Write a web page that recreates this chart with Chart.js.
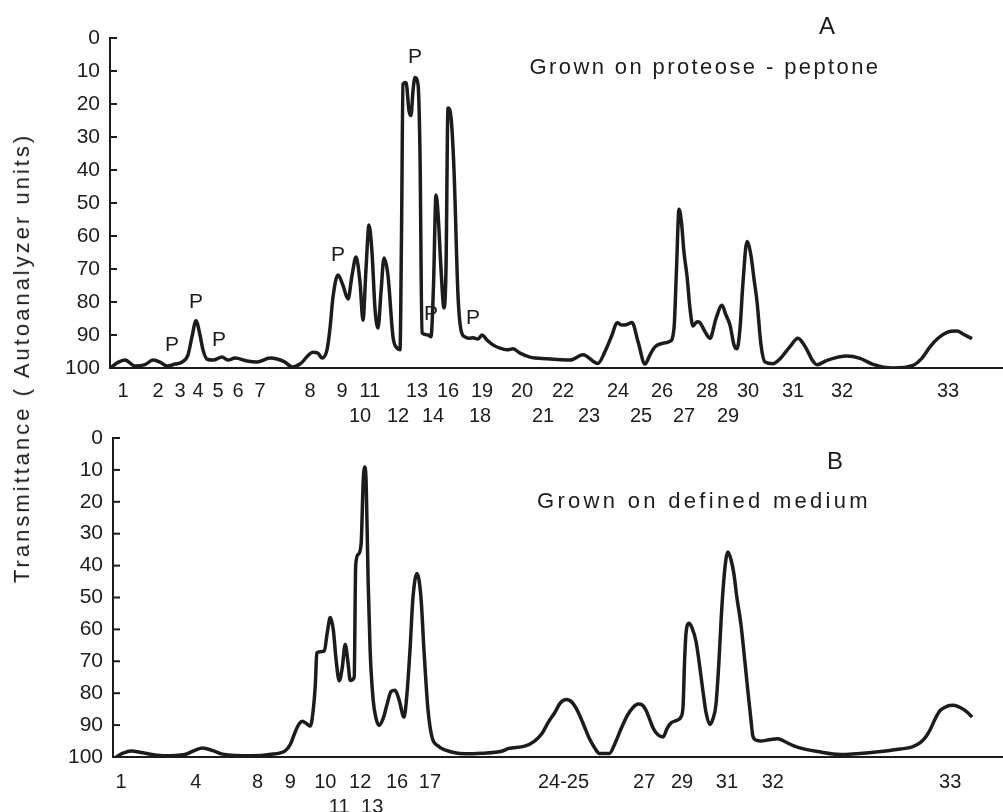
<!DOCTYPE html>
<html>
<head>
<meta charset="utf-8">
<script src="https://cdn.jsdelivr.net/npm/chart.js@4.4.1/dist/chart.umd.min.js"></script>
<style>
  body { margin: 0; background: #fff; }
  #wrap { position: relative; width: 1003px; height: 812px; overflow: hidden; }
  .panel { position: absolute; left: 0; width: 1003px; }
  #panelA { top: 0; height: 425px; }
  #panelB { top: 400px; height: 412px; }
  #yTitle {
    position: absolute; left: 22px; top: 358px;
    transform: translate(-50%, -50%) rotate(-90deg);
    white-space: nowrap; color: #1c1c1c; letter-spacing: 3px;
    font: 22px 'Liberation Sans', sans-serif;
  }
</style>
</head>
<body>
<div id="wrap">
  <div class="panel" id="panelA"><canvas id="chartA"></canvas></div>
  <div class="panel" id="panelB"><canvas id="chartB"></canvas></div>
  <div id="yTitle">Transmittance ( Autoanalyzer units)</div>
</div>
<script>
// elution position (arbitrary units) vs. transmittance, panel A (proteose-peptone)
const posA = [110, 118, 125, 135, 145, 153, 160, 167, 175, 182, 188, 192, 196, 200, 203, 207, 213, 222, 228, 235,
  247, 257, 270, 285, 292, 300, 313, 318, 322, 327, 330, 333, 338, 343, 348, 352, 356, 360, 363, 366,
  369, 372, 375, 378, 381, 384, 388, 393, 397, 400, 401.5, 403, 406, 409, 411, 413, 415, 418, 420, 422,
  428, 431, 433.5, 436, 438, 441, 444, 446, 448, 451, 454, 458, 461, 465, 469, 473, 478, 482, 487, 493,
  500, 507, 513, 520, 530, 547, 570, 583, 598, 605, 612, 617, 622, 627, 632, 638, 645, 650, 655, 663,
  670, 674, 676.5, 679, 681.5, 684, 687, 690, 693, 697, 700, 705, 710, 716, 722, 726, 730, 734, 737, 740,
  743, 747, 751, 754, 757, 761, 765, 773, 780, 790, 798, 803, 807, 812, 817, 827, 847, 860, 873, 893,
  913, 922, 930, 938, 947, 957, 963, 972];
const transA = [100, 98.3, 97.6, 99.4, 99, 97.6, 98.2, 99.4, 98.8, 98.2, 96, 90.5, 85.7, 90, 94.5, 97.3, 97.6, 96.7, 97.6, 97,
  97.9, 98.2, 97, 98.2, 99.7, 98.8, 95.2, 95.5, 97, 94.5, 88, 78.5, 71.8, 75, 79.1, 72, 66.4, 74, 85.5, 70,
  56.7, 65, 82, 87.9, 77, 66.7, 72, 90.6, 94, 94.5, 60, 14, 13.5, 22, 23.5, 16, 12, 14, 35, 89.4,
  90, 90.5, 75, 47.6, 53, 70, 81.8, 70, 21.2, 24, 40, 78, 88.5, 90.6, 91, 90.8, 91.2, 90, 91.5, 93,
  94, 94.5, 94.2, 95.5, 96.7, 97.2, 97.6, 96, 98.6, 95, 90, 86.3, 87, 86.8, 86.2, 92, 98.8, 96, 93.6, 92.5,
  91.9, 88, 70, 51.9, 56, 65, 72.1, 82, 87.3, 86, 86.3, 89, 91, 85, 81, 84, 87, 93, 94.2, 88,
  74, 61.7, 66, 73, 79.8, 93, 98.2, 98.7, 97.2, 93.5, 91, 92.5, 94.5, 97.5, 99, 97.7, 96.4, 97.1, 98.9, 100,
  99.2, 97, 93.6, 91, 89.2, 88.8, 89.7, 91.1];

// panel B (defined medium)
const posB = [113, 120, 128, 140, 160, 182, 192, 200, 210, 220, 250, 267, 283, 288, 293, 297, 300, 304, 308, 311,
  313, 314.5, 318, 322, 325, 328, 331, 334, 337, 340, 343, 346, 348, 352, 353.5, 356, 359, 361, 362.5, 364,
  366, 368, 371, 374, 377, 381, 385, 389, 393, 397, 402, 405, 408, 411, 415, 419, 422, 426, 430, 436,
  443, 463, 480, 500, 507, 523, 533, 540, 547, 553, 559, 565, 571, 577, 583, 588, 594, 598, 608, 614,
  620, 626, 632, 637, 641, 645, 648, 652, 657, 662, 666, 670, 676, 680, 682, 683.5, 685, 688, 691, 695,
  698, 702, 705, 709, 712, 715, 718, 720, 722, 725, 727, 730, 733, 736, 740, 744, 747, 750, 752, 756,
  760, 768, 777, 785, 793, 805, 817, 840, 873, 900, 912, 920, 926, 930, 935, 940, 946, 953, 958, 963,
  968, 972];
const transB = [100, 98.8, 98.1, 98.7, 99.6, 99.2, 97.9, 97.2, 98, 99.1, 99.6, 99.2, 98, 96, 92, 89.5, 88.8, 89.5, 90.3, 85,
  77.4, 67.4, 67, 66.7, 61, 56.3, 60, 70, 76.1, 72, 64.7, 71, 76, 75.1, 40, 36.5, 33, 14, 9.1, 14,
  45, 66.6, 82, 88, 90.1, 88, 83.5, 79.5, 79.1, 82, 87.5, 80, 66.4, 50, 42.5, 50, 66.4, 85, 93.7, 96.5,
  97.8, 99, 98.8, 98.2, 97.3, 96.6, 95, 92.8, 89, 86.2, 83, 82, 83, 86.1, 90.5, 94.2, 97.5, 98.9, 98.9, 95.5,
  91, 87, 84.4, 83.4, 83.7, 85.5, 87.8, 91, 93.1, 93.7, 91, 89.3, 88.5, 87.4, 84, 70, 61, 58.1, 59.5, 63.8,
  70, 79.5, 86, 89.8, 88, 83.5, 70, 58, 48, 38, 35.7, 38, 42.6, 50, 58.3, 70, 79.3, 88, 93.4, 94.8,
  95, 94.6, 94.3, 95.3, 96.5, 97.6, 98.3, 99.2, 98.5, 97.5, 96.8, 95.5, 93.5, 91.4, 88, 85.4, 84.2, 83.8, 84.2, 85,
  86.2, 87.5];

// peak numbers under the axis (upper row / lower row)
const peakPosA1 = [123, 158, 180, 198, 218, 238, 260, 310, 342, 370, 417, 448, 482, 522, 563, 618, 662, 707, 748, 793, 842, 948];
const peakLabA1 = ['1', '2', '3', '4', '5', '6', '7', '8', '9', '11', '13', '16', '19', '20', '22', '24', '26', '28', '30', '31', '32', '33'];
const peakPosA2 = [360, 398, 433, 480, 543, 589, 641, 684, 728];
const peakLabA2 = ['10', '12', '14', '18', '21', '23', '25', '27', '29'];
const peakPosB1 = [118, 193, 255, 288, 323, 358, 395, 428, 562, 643, 681, 726, 772, 950];
const peakLabB1 = ['1', '4', '8', '9', '10', '12', '16', '17', '24-25', '27', '29', '31', '32', '33'];
const peakPosB2 = [337, 370];
const peakLabB2 = ['11', '13'];

// "P" markers on panel A
const pPosA = [172, 196, 219, 338, 415, 431, 473];
const pLevelA = [93, 80, 91.5, 65.8, 5.8, 83.6, 84.8];

const yTicks = [0, 10, 20, 30, 40, 50, 60, 70, 80, 90, 100];

const INK = '#1c1c1c';
const FONT = "'Liberation Sans', sans-serif";

const panelDecor = {
  id: 'panelDecor',
  afterDraw(chart, args, opts) {
    const ctx = chart.ctx;
    const ys = chart.scales.y, xs = chart.scales.x;
    ctx.save();
    ctx.strokeStyle = INK;
    ctx.lineWidth = 2;
    // inward tick marks on the y axis
    yTicks.forEach(v => {
      const py = ys.getPixelForValue(v);
      ctx.beginPath();
      ctx.moveTo(ys.right, py);
      ctx.lineTo(ys.right + 7, py);
      ctx.stroke();
    });
    ctx.fillStyle = INK;
    ctx.textAlign = 'center';
    ctx.textBaseline = 'middle';
    ctx.font = '24px ' + FONT;
    ctx.fillText(opts.letter, opts.letterAt[0], opts.letterAt[1]);
    ctx.font = '22px ' + FONT;
    ctx.letterSpacing = opts.spacing;
    ctx.fillText(opts.title, opts.titleAt[0], opts.titleAt[1]);
    ctx.letterSpacing = '0px';
    ctx.font = '21px ' + FONT;
    (opts.pPos || []).forEach((x, i) => {
      ctx.fillText('P', xs.getPixelForValue(x), ys.getPixelForValue(opts.pLevel[i]));
    });
    ctx.restore();
  }
};

function makePanel(id, pos, trans, row1Pos, row1Lab, row2Pos, row2Lab, yWidth, bottomGap, labelPad, decor) {
  const tickList = row1Pos.map((p, i) => ({ value: p, label: row1Lab[i] }))
    .concat(row2Pos.map((p, i) => ({ value: p, label: ['', row2Lab[i]] })));
  return new Chart(document.getElementById(id), {
    type: 'line',
    data: {
      datasets: [{
        data: pos.map((x, i) => ({ x: x, y: trans[i] })),
        borderColor: INK,
        borderWidth: 3.5,
        pointRadius: 0,
        fill: false,
        cubicInterpolationMode: 'monotone'
      }]
    },
    options: {
      responsive: true,
      maintainAspectRatio: false,
      animation: false,
      layout: { padding: { top: 38, right: 0, left: 0, bottom: 0 } },
      plugins: { legend: { display: false }, tooltip: { enabled: false }, panelDecor: decor },
      scales: {
        x: {
          type: 'linear',
          min: 110,
          max: 1003,
          grid: { display: false, drawTicks: false },
          border: { display: true, color: INK, width: 2 },
          afterBuildTicks: (axis) => { axis.ticks = tickList.map(t => ({ value: t.value })); },
          afterFit: (s) => { s.height = bottomGap; },
          ticks: {
            autoSkip: false,
            maxRotation: 0,
            padding: labelPad,
            color: INK,
            font: { family: FONT, size: 20, lineHeight: 1.25 },
            callback: (v, i) => tickList[i].label
          }
        },
        y: {
          reverse: true,
          min: 0,
          max: 100,
          grid: { display: false, drawTicks: false },
          border: { display: true, color: INK, width: 2 },
          afterFit: (s) => { s.width = yWidth; },
          ticks: { stepSize: 10, padding: 10, color: INK, font: { family: FONT, size: 21 } }
        }
      }
    },
    plugins: [panelDecor]
  });
}

makePanel('chartA', posA, transA, peakPosA1, peakLabA1, peakPosA2, peakLabA2, 110, 57, 11, {
  letter: 'A', letterAt: [827, 27],
  title: 'Grown on proteose - peptone', titleAt: [705, 68], spacing: '2.4px',
  pPos: pPosA, pLevel: pLevelA
});
makePanel('chartB', posB, transB, peakPosB1, peakLabB1, peakPosB2, peakLabB2, 113, 55, 13, {
  letter: 'B', letterAt: [835, 62],
  title: 'Grown on defined medium', titleAt: [704, 102], spacing: '3.3px'
});
</script>
</body>
</html>
